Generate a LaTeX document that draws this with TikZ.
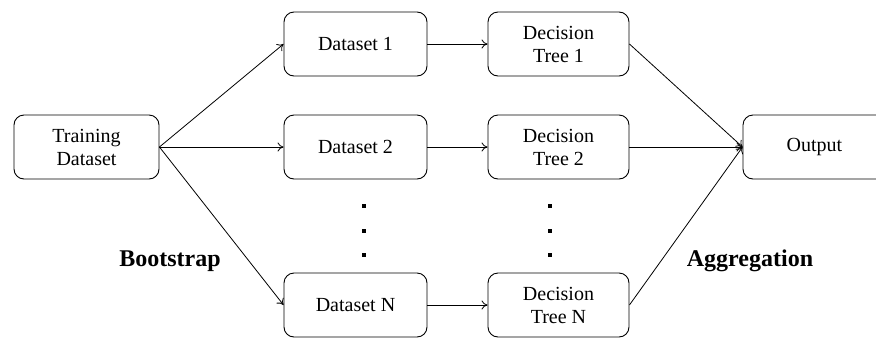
\documentclass[tikz,border=0pt]{standalone}
\usepackage{fontspec}
\setmainfont{Liberation Serif}
\usetikzlibrary{arrows.meta}
\begin{document}
\begin{tikzpicture}[x=1pt,y=-1pt,
  box/.style={draw, line width=0.9pt, rounded corners=10pt, minimum width=143pt,
    minimum height=64pt, align=center, font=\fontsize{20}{23}\selectfont, inner sep=0pt},
  link/.style={line width=0.8pt, -{To[length=6pt,width=9pt]}},
  phase/.style={font=\fontsize{24}{28}\selectfont\bfseries},
  dot/.style={fill=black, minimum size=4pt, inner sep=0pt}]
\useasboundingbox (0,0) rectangle (876,338);
% input
\node[box, minimum width=145pt] (train) at (86.5,147) {Training\\Dataset};
% bootstrap samples
\node[box] (d1) at (355.5,44) {Dataset 1};
\node[box] (d2) at (355.5,147) {Dataset 2};
\node[box] (dn) at (355.5,305) {Dataset N};
% trees
\node[box, minimum width=141pt] (t1) at (558.5,44) {Decision\\Tree 1};
\node[box, minimum width=141pt] (t2) at (558.5,147) {Decision\\Tree 2};
\node[box, minimum width=141pt] (tn) at (558.5,305) {Decision\\Tree N};
% output
\node[box] (out) at (814.5,147) {Output};
% ellipsis dots
\foreach \i/\y in {1/206,2/231,3/255}{
  \node[dot] (da\i) at (364,\y) {};
  \node[dot] (ta\i) at (550,\y) {};
}
% phase labels
\node[phase] (boot) at (170,261) {Bootstrap};
\node[phase] (agg) at (750,261) {Aggregation};
% connectors
\draw[link] (train.east) -- (d1.west);
\draw[link] (train.east) -- (d2.west);
\draw[link] (train.east) -- (dn.west);
\draw[link] (d1) -- (t1);
\draw[link] (d2) -- (t2);
\draw[link] (dn) -- (tn);
\draw[link] (t1.east) -- (out.west);
\draw[link] (t2.east) -- (out.west);
\draw[link] (tn.east) -- (out.west);
\end{tikzpicture}
\end{document}
